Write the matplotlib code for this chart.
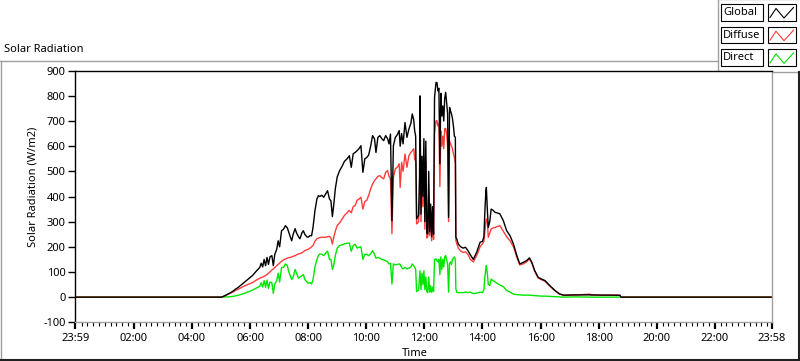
import numpy as np
import matplotlib
matplotlib.use('Agg')
from matplotlib import pyplot as pl
from matplotlib.patches import Rectangle

# time in minutes after midnight (-1 is 23:59 of the previous day)
minutes = [-1, 300, 305, 310, 315, 320, 325, 330, 335, 340,
           345, 350, 355, 360, 365, 370, 375, 380, 383, 386,
           389, 392, 395, 398, 401, 405, 408, 411, 415, 418,
           421, 425, 429, 433, 437, 440, 443, 446, 449, 453,
           456, 460, 463, 467, 470, 473, 477, 480, 484, 487,
           490, 494, 498, 501, 504, 508, 512, 516, 520, 524,
           527, 530, 533, 536, 540, 545, 550, 555, 560, 565,
           569, 573, 577, 581, 585, 589, 593, 597, 601, 605,
           609, 613, 617, 620, 624, 628, 632, 636, 640, 644,
           647, 650, 653, 656, 660, 664, 668, 670, 673, 676,
           680, 684, 688, 692, 695, 698, 700, 702, 704, 706,
           708, 710, 711, 713, 715, 717, 719, 721, 723, 725,
           727, 729, 731, 733, 735, 737, 739, 741, 744, 746,
           748, 750, 752, 754, 756, 758, 760, 762, 764, 766,
           768, 770, 772, 774, 776, 778, 780, 782, 784, 785,
           787, 790, 795, 800, 805, 810, 815, 821, 828, 835,
           840, 843, 845, 847, 848, 850, 852, 855, 858, 862,
           866, 870, 876, 883, 890, 897, 904, 911, 917, 924,
           931, 937, 942, 948, 955, 962, 969, 979, 990, 999,
           1008, 1030, 1062, 1064, 1090, 1110, 1124, 1126, 1438]

global_rad = [0, 0, 3, 8, 13, 18, 24, 32, 38, 46,
              54, 62, 70, 78, 86, 97, 108, 118, 135, 120,
              150, 125, 158, 130, 160, 165, 125, 170, 190, 224,
              200, 264, 270, 284, 275, 257, 240, 224, 250, 272,
              255, 240, 232, 255, 264, 250, 240, 238, 245, 244,
              277, 344, 390, 403, 400, 405, 397, 410, 423, 390,
              383, 320, 370, 430, 478, 503, 520, 540, 549, 562,
              516, 570, 575, 582, 590, 602, 496, 550, 555, 565,
              600, 642, 629, 575, 635, 642, 630, 622, 642, 630,
              609, 648, 304, 602, 635, 645, 662, 600, 650, 609,
              694, 635, 668, 690, 728, 705, 660, 640, 311, 318,
              325, 480, 800, 330, 560, 400, 630, 300, 620, 255,
              251, 500, 260, 370, 240, 360, 250, 794, 853, 853,
              820, 830, 530, 810, 720, 760, 700, 790, 814, 770,
              730, 317, 754, 740, 728, 710, 680, 640, 635, 238,
              231, 211, 200, 195, 198, 185, 168, 150, 178, 218,
              222, 240, 344, 420, 436, 350, 277, 300, 350, 345,
              337, 335, 331, 304, 264, 244, 211, 165, 132, 138,
              145, 156, 138, 105, 79, 72, 66, 46, 26, 13,
              8, 9, 9, 9, 8, 8, 7, 0, 0]

diffuse = [0, 0, 3, 7, 12, 16, 21, 27, 31, 36,
           41, 46, 50, 54, 58, 64, 70, 75, 78, 80,
           83, 86, 90, 95, 100, 108, 112, 118, 125, 130,
           135, 142, 148, 152, 155, 157, 158, 160, 162, 165,
           168, 172, 173, 176, 180, 185, 188, 190, 195, 200,
           205, 222, 232, 235, 237, 238, 238, 238, 240, 242,
           235, 211, 240, 262, 285, 295, 310, 325, 335, 345,
           335, 360, 364, 385, 390, 397, 350, 380, 385, 405,
           430, 450, 463, 470, 480, 483, 475, 470, 496, 503,
           480, 470, 252, 476, 510, 516, 530, 436, 536, 500,
           569, 516, 562, 575, 582, 590, 549, 540, 291, 295,
           300, 390, 610, 300, 470, 360, 530, 270, 540, 235,
           240, 420, 245, 330, 224, 320, 230, 650, 701, 701,
           680, 690, 440, 660, 600, 640, 590, 670, 670, 650,
           600, 300, 620, 610, 600, 590, 570, 555, 530, 224,
           212, 195, 183, 178, 180, 170, 150, 140, 165, 200,
           212, 222, 260, 300, 311, 300, 238, 255, 271, 275,
           277, 280, 284, 262, 240, 224, 200, 158, 128, 132,
           140, 152, 135, 102, 76, 69, 63, 44, 25, 12,
           7, 8, 12, 8, 8, 8, 8, 0, 0]

direct = [0, 0, 0, 1, 1, 2, 3, 5, 7, 10,
          13, 16, 20, 24, 28, 33, 38, 43, 57, 40,
          66, 39, 68, 35, 60, 57, 15, 52, 65, 95,
          60, 118, 118, 132, 125, 100, 85, 70, 80, 110,
          95, 75, 80, 85, 90, 70, 62, 55, 58, 52,
          70, 120, 150, 165, 172, 170, 165, 175, 183, 150,
          150, 110, 130, 165, 195, 205, 208, 212, 214, 215,
          182, 205, 210, 195, 198, 200, 150, 170, 170, 165,
          172, 185, 170, 155, 158, 155, 150, 148, 145, 140,
          132, 135, 52, 132, 128, 130, 132, 130, 118, 112,
          118, 112, 115, 120, 132, 125, 118, 110, 22, 25,
          28, 80, 105, 30, 95, 50, 105, 30, 80, 22,
          18, 80, 20, 45, 19, 40, 22, 150, 152, 145,
          140, 150, 90, 160, 110, 150, 120, 160, 165, 150,
          130, 20, 135, 140, 130, 150, 155, 160, 150, 33,
          19, 18, 18, 18, 20, 18, 20, 14, 16, 20,
          18, 30, 80, 115, 125, 95, 50, 46, 72, 65,
          60, 55, 48, 42, 26, 20, 12, 10, 9, 8,
          8, 8, 7, 6, 5, 4, 4, 3, 2, 1,
          0, 1, 0, 0, 0, 0, 0, 0, 0]

series_names = ['Global', 'Diffuse', 'Direct']
series_colors = ['#000000', '#ff3c3c', '#00e600']

tick_minutes = [-1, 120, 240, 360, 480, 600, 720, 840, 960, 1080, 1200, 1320, 1438]
tick_labels = ['23:59', '02:00', '04:00', '06:00', '08:00', '10:00', '12:00',
               '14:00', '16:00', '18:00', '20:00', '22:00', '23:58']

assert len(minutes) == len(global_rad) == len(diffuse) == len(direct)

pl.rcParams['font.family'] = ['Noto Sans', 'DejaVu Sans']
pl.rcParams['axes.unicode_minus'] = False
fs = 8

W, H = 800, 361
fig = pl.figure(figsize=(W / 100, H / 100), dpi=100)

# overlay in pixel coordinates for the frame, title and legend
over = fig.add_axes([0, 0, 1, 1], zorder=0)
over.set_xlim(0, W)
over.set_ylim(H, 0)
over.axis('off')
gray = '#a0a0a0'
over.plot([0, 717.5], [60.5, 60.5], color=gray, lw=1)
over.plot([0.5, 0.5], [60.5, H], color=gray, lw=1)
over.plot([0, 798.5], [359.5, 359.5], color='#202020', lw=1.5)
over.plot([798.5, 798.5], [71.5, 360], color='#202020', lw=1.5)
over.text(4, 50, 'Solar Radiation', fontsize=fs, va='center', ha='left')

# legend block
over.add_patch(Rectangle((717.5, -1), 90, 72.5, facecolor='white', edgecolor=gray, lw=1))
for i, (name, col) in enumerate(zip(series_names, series_colors)):
    y0 = 4 + 22.7 * i
    over.add_patch(Rectangle((720.7, y0), 42.6, 16.7, facecolor='white', edgecolor='black', lw=0.8))
    over.add_patch(Rectangle((767.7, y0), 28, 16.7, facecolor='white', edgecolor='black', lw=0.8))
    over.text(723, y0 + 8.5, name, fontsize=fs, va='center', ha='left')
    over.plot([770, 776, 784, 793.5], [y0 + 13.5, y0 + 4.5, y0 + 14, y0 + 3.5], color=col, lw=0.8)

ax = fig.add_axes([75.3 / W, 1 - 322.3 / H, 696.7 / W, 251.6 / H], zorder=1)
ax.plot(minutes, direct, color=series_colors[2], lw=1.0, label='Direct')
ax.plot(minutes, diffuse, color=series_colors[1], lw=1.0, label='Diffuse')
ax.plot(minutes, global_rad, color=series_colors[0], lw=1.0, label='Global')

ax.set_xlim(-1, 1438)
ax.set_ylim(-100, 900)
ax.set_yticks(np.arange(-100, 901, 100))
ax.set_xticks(tick_minutes)
ax.set_xticklabels(tick_labels)
ax.set_xticks([m for m in range(0, 1438, 12) if m % 120 != 0], minor=True)
ax.tick_params(axis='both', labelsize=fs, direction='out', color='black')
ax.tick_params(axis='x', which='major', length=5, width=1.6, pad=3)
ax.tick_params(axis='x', which='minor', length=3, width=0.8)
ax.tick_params(axis='y', length=5, width=1, pad=2)
ax.spines['left'].set_color('black')
ax.spines['top'].set_color('black')
ax.spines['right'].set_color(gray)
ax.spines['bottom'].set_color(gray)
for s in ax.spines.values():
    s.set_linewidth(1)

fig.text(33 / W, 1 - 187 / H, 'Solar Radiation (W/m2)', rotation=90,
         fontsize=fs, ha='center', va='center')
fig.text(415 / W, 1 - 354 / H, 'Time', fontsize=fs, ha='center', va='center')

pl.savefig('out.png', dpi=100)
